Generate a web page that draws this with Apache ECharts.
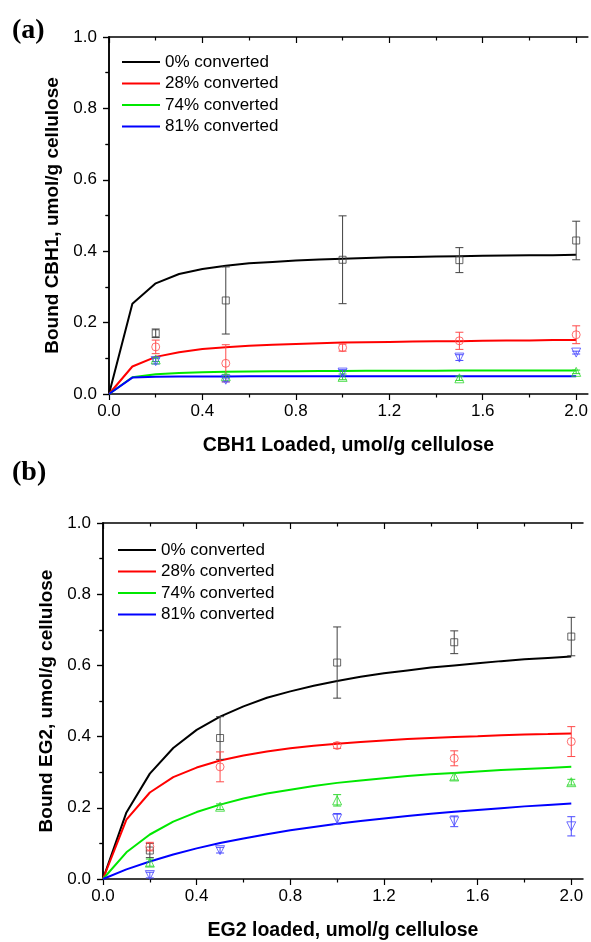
<!DOCTYPE html>
<html>
<head>
<meta charset="utf-8">
<script src="https://cdn.jsdelivr.net/npm/echarts@6/dist/echarts.min.js"></script>
<style>
  html, body { margin: 0; padding: 0; background: #fff; }
  #chart { width: 591px; height: 942px; }
</style>
</head>
<body>
<div id="chart"></div>
<script>
// Series labels and colours (fitted curves / measured points)
const seriesNames = ['0% converted', '28% converted', '74% converted', '81% converted'];
const lineColors = ['#000000', '#ff0000', '#00e800', '#0000ff'];
const markColors = ['#404040', '#ff4a4a', '#30d830', '#4a4aff'];
const markSymbols = ['rect', 'circle', 'triangle', 'triangle'];
const markRotations = [0, 0, 0, 180];

// Axis ticks
const xTicks = [0, 0.4, 0.8, 1.2, 1.6, 2.0];
const xMinorTicks = [0.2, 0.6, 1.0, 1.4, 1.8];

// Fitted binding curves, sampled every 0.1 umol/g
const fitX = [0, 0.1, 0.2, 0.3, 0.4, 0.5, 0.6, 0.7, 0.8, 0.9, 1.0, 1.1, 1.2, 1.3, 1.4, 1.5, 1.6, 1.7, 1.8, 1.9, 2.0];

// (a) CBH1
const fitCbh0  = [0, 0.253, 0.310, 0.336, 0.350, 0.359, 0.366, 0.370, 0.374, 0.377, 0.379, 0.381, 0.383, 0.384, 0.385, 0.386, 0.387, 0.388, 0.389, 0.389, 0.390];
const fitCbh28 = [0, 0.077, 0.104, 0.117, 0.126, 0.131, 0.135, 0.138, 0.140, 0.142, 0.144, 0.145, 0.146, 0.147, 0.148, 0.148, 0.149, 0.150, 0.150, 0.151, 0.151];
const fitCbh74 = [0, 0.047, 0.055, 0.059, 0.061, 0.062, 0.063, 0.0635, 0.064, 0.0643, 0.0646, 0.0648, 0.0650, 0.0652, 0.0654, 0.0655, 0.0656, 0.0657, 0.0658, 0.0659, 0.0660];
const fitCbh81 = [0, 0.046, 0.048, 0.0487, 0.0491, 0.0493, 0.0494, 0.0495, 0.0496, 0.0497, 0.0497, 0.0498, 0.0498, 0.0498, 0.0499, 0.0499, 0.0499, 0.0499, 0.0500, 0.0500, 0.0500];

// (b) EG2
const fitEg0  = [0, 0.187, 0.296, 0.368, 0.419, 0.456, 0.485, 0.509, 0.527, 0.543, 0.556, 0.568, 0.578, 0.586, 0.594, 0.600, 0.606, 0.612, 0.617, 0.621, 0.625];
const fitEg28 = [0, 0.167, 0.243, 0.286, 0.313, 0.333, 0.347, 0.358, 0.367, 0.374, 0.380, 0.385, 0.389, 0.393, 0.396, 0.399, 0.401, 0.404, 0.406, 0.407, 0.409];
const fitEg74 = [0, 0.075, 0.125, 0.161, 0.188, 0.209, 0.226, 0.240, 0.251, 0.261, 0.270, 0.277, 0.283, 0.289, 0.294, 0.298, 0.302, 0.306, 0.309, 0.312, 0.315];
const fitEg81 = [0, 0.027, 0.049, 0.069, 0.086, 0.101, 0.114, 0.126, 0.137, 0.146, 0.155, 0.163, 0.170, 0.177, 0.183, 0.189, 0.194, 0.199, 0.204, 0.208, 0.212];

// Measured bound amounts (mean and +/- error) at each enzyme loading
const loadX = [0.2, 0.5, 1.0, 1.5, 2.0];

const boundCbh0  = [0.170, 0.262, 0.376, 0.375, 0.430];
const errCbh0    = [0.012, 0.094, 0.123, 0.035, 0.054];
const boundCbh28 = [0.132, 0.086, 0.130, 0.149, 0.166];
const errCbh28   = [0.019, 0.052, 0.010, 0.024, 0.025];
const boundCbh74 = [0.097, 0.050, 0.048, 0.044, 0.062];
const errCbh74   = [0.006, 0.005, 0.008, 0.006, 0.005];
const boundCbh81 = [0.092, 0.040, 0.060, 0.102, 0.116];
const errCbh81   = [0.008, 0.006, 0.008, 0.008, 0.004];

const boundEg0  = [0.080, 0.396, 0.608, 0.665, 0.681];
const errEg0    = [0.020, 0.060, 0.100, 0.032, 0.054];
const boundEg28 = [0.091, 0.315, 0.375, 0.339, 0.386];
const errEg28   = [0.012, 0.042, 0.008, 0.021, 0.042];
const boundEg74 = [0.046, 0.203, 0.221, 0.288, 0.272];
const errEg74   = [0.010, 0.008, 0.016, 0.010, 0.008];
const boundEg81 = [0.011, 0.081, 0.169, 0.162, 0.148];
const errEg81   = [0.008, 0.008, 0.015, 0.015, 0.027];

const FONT = '"Liberation Sans", Arial, Helvetica, sans-serif';

const panels = [
  {
    letter: '(a)', letterTop: 17,
    grid: { left: 109, top: 37, width: 479, height: 357 },
    xName: 'CBH1 Loaded, umol/g cellulose',
    yName: 'Bound CBH1, umol/g cellulose',
    legendLeft: 122, legendTop: 52,
    fits: [fitCbh0, fitCbh28, fitCbh74, fitCbh81],
    bound: [boundCbh0, boundCbh28, boundCbh74, boundCbh81],
    err: [errCbh0, errCbh28, errCbh74, errCbh81]
  },
  {
    letter: '(b)', letterTop: 459,
    grid: { left: 103, top: 523, width: 480, height: 357 },
    xName: 'EG2 loaded, umol/g cellulose',
    yName: 'Bound EG2, umol/g cellulose',
    legendLeft: 118, legendTop: 540,
    fits: [fitEg0, fitEg28, fitEg74, fitEg81],
    bound: [boundEg0, boundEg28, boundEg74, boundEg81],
    err: [errEg0, errEg28, errEg74, errEg81]
  }
];

const axisLineStyle = { color: '#000', width: 1.5 };
const MAJOR = 6, MINOR = 3.5;

function errorBarItem(params, api) {
  const x = api.value(0);
  const top = api.coord([x, api.value(2)]);
  const bot = api.coord([x, api.value(1)]);
  const cap = 4;
  const style = { stroke: api.visual('color'), lineWidth: 1, fill: null };
  return {
    type: 'group',
    children: [
      { type: 'line', shape: { x1: top[0], y1: top[1], x2: bot[0], y2: bot[1] }, style: style },
      { type: 'line', shape: { x1: top[0] - cap, y1: top[1], x2: top[0] + cap, y2: top[1] }, style: style },
      { type: 'line', shape: { x1: bot[0] - cap, y1: bot[1], x2: bot[0] + cap, y2: bot[1] }, style: style }
    ]
  };
}

const option = {
  animation: false,
  backgroundColor: '#fff',
  textStyle: { fontFamily: FONT },
  grid: [],
  xAxis: [],
  yAxis: [],
  legend: [],
  series: [],
  graphic: []
};

panels.forEach(function (p, g) {
  option.grid.push(Object.assign({ containLabel: false }, p.grid));

  const xBase = { type: 'value', gridIndex: g, min: 0, max: 2.05, splitLine: { show: false } };
  // bottom axis: major ticks with labels and title
  option.xAxis.push(Object.assign({}, xBase, {
    position: 'bottom',
    axisLine: { show: true, lineStyle: axisLineStyle },
    axisTick: { show: true, inside: false, length: MAJOR, customValues: xTicks, lineStyle: { color: '#000', width: 1.2 } },
    axisLabel: { show: true, customValues: xTicks, margin: 9, fontSize: 17, color: '#000', fontFamily: FONT,
                 formatter: function (v) { return v.toFixed(1); } },
    name: p.xName, nameLocation: 'middle', nameGap: 42,
    nameTextStyle: { fontSize: 19.5, fontWeight: 'bold', color: '#000', fontFamily: FONT }
  }));
  // bottom axis: minor ticks
  option.xAxis.push(Object.assign({}, xBase, {
    position: 'bottom',
    axisLine: { show: false },
    axisTick: { show: true, inside: false, length: MINOR, customValues: xMinorTicks, lineStyle: { color: '#000', width: 1.2 } },
    axisLabel: { show: false }
  }));
  // top frame: major ticks
  option.xAxis.push(Object.assign({}, xBase, {
    position: 'top',
    axisLine: { show: true, lineStyle: axisLineStyle },
    axisTick: { show: true, inside: true, length: MAJOR, customValues: xTicks, lineStyle: { color: '#000', width: 1.2 } },
    axisLabel: { show: false }
  }));
  // top frame: minor ticks
  option.xAxis.push(Object.assign({}, xBase, {
    position: 'top',
    axisLine: { show: false },
    axisTick: { show: true, inside: true, length: MINOR, customValues: xMinorTicks, lineStyle: { color: '#000', width: 1.2 } },
    axisLabel: { show: false }
  }));

  const yBase = { type: 'value', gridIndex: g, min: 0, max: 1.0, interval: 0.2, splitLine: { show: false } };
  option.yAxis.push(Object.assign({}, yBase, {
    position: 'left',
    axisLine: { show: true, lineStyle: axisLineStyle },
    axisTick: { show: true, inside: false, length: MAJOR, lineStyle: { color: '#000', width: 1.2 } },
    minorTick: { show: true, splitNumber: 2, length: MINOR, lineStyle: { color: '#000', width: 1.2 } },
    axisLabel: { show: true, margin: 12, fontSize: 17, color: '#000', fontFamily: FONT,
                 formatter: function (v) { return v.toFixed(1); } },
    name: p.yName, nameLocation: 'middle', nameGap: 47,
    nameTextStyle: { fontSize: 19, fontWeight: 'bold', color: '#000', fontFamily: FONT }
  }));
  option.yAxis.push(Object.assign({}, yBase, {
    position: 'right',
    axisLine: { show: true, lineStyle: axisLineStyle },
    axisTick: { show: true, inside: true, length: MAJOR, lineStyle: { color: '#000', width: 1.2 } },
    minorTick: { show: true, splitNumber: 2, length: MINOR, lineStyle: { color: '#000', width: 1.2 } },
    axisLabel: { show: false }
  }));

  // plain line swatches in the key
  option.legend.push({
    orient: 'vertical',
    left: p.legendLeft,
    top: p.legendTop,
    data: seriesNames,
    selectedMode: false,
    icon: 'rect',
    itemWidth: 38,
    itemHeight: 2,
    itemGap: 1.5,
    padding: 0,
    textStyle: { fontSize: 17, lineHeight: 20, color: '#000', fontFamily: FONT }
  });

  const xi = g * 4, yi = g * 2;
  seriesNames.forEach(function (name, k) {
    option.series.push({
      type: 'line',
      name: name,
      xAxisIndex: xi,
      yAxisIndex: yi,
      symbol: 'none',
      smooth: false,
      lineStyle: { color: lineColors[k], width: 2 },
      itemStyle: { color: lineColors[k] },
      data: fitX.map(function (x, i) { return [x, p.fits[k][i]]; }),
      z: 3
    });
    option.series.push({
      type: 'custom',
      name: name + ' error',
      xAxisIndex: xi,
      yAxisIndex: yi,
      renderItem: errorBarItem,
      itemStyle: { color: markColors[k] },
      encode: { x: 0, y: [1, 2] },
      data: loadX.map(function (x, i) {
        return [x, p.bound[k][i] - p.err[k][i], p.bound[k][i] + p.err[k][i]];
      }),
      z: 4
    });
    option.series.push({
      type: 'scatter',
      name: name + ' measured',
      xAxisIndex: xi,
      yAxisIndex: yi,
      symbol: markSymbols[k],
      symbolRotate: markRotations[k],
      symbolSize: k === 0 ? 7 : (k === 1 ? 8 : 9),
      itemStyle: { color: 'rgba(255,255,255,0)', borderColor: markColors[k], borderWidth: 1 },
      data: loadX.map(function (x, i) { return [x, p.bound[k][i]]; }),
      z: 5
    });
  });

  option.graphic.push({
    type: 'text',
    left: 12,
    top: p.letterTop,
    style: { text: p.letter, font: 'bold 28px "Liberation Serif", "Times New Roman", serif', fill: '#000' }
  });
});

const chart = echarts.init(document.getElementById('chart'), null, { renderer: 'canvas' });
chart.setOption(option);
</script>
</body>
</html>
